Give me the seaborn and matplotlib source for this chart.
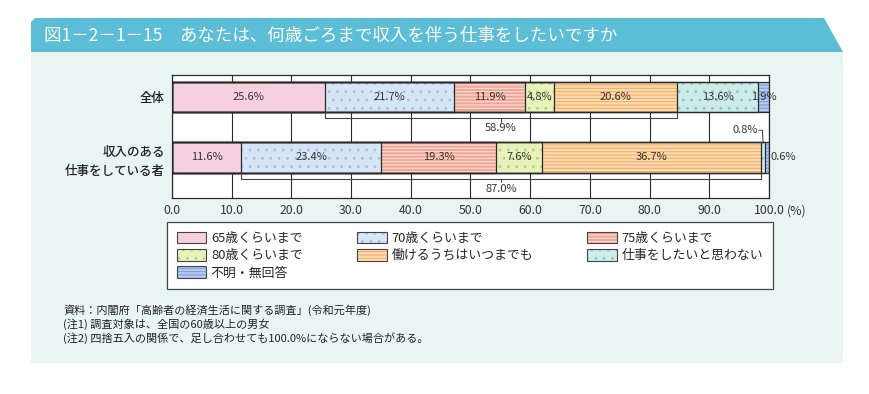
import numpy as np
import pandas as pd
import matplotlib
matplotlib.use("Agg")
import matplotlib.pyplot as plt
from matplotlib.patches import Patch, Polygon, Rectangle
import seaborn as sns

# データ
groups = ["全体", "収入のある\n仕事をしている者"]
categories = ["65歳くらいまで", "70歳くらいまで", "75歳くらいまで", "80歳くらいまで",
              "働けるうちはいつまでも", "仕事をしたいと思わない", "不明・無回答"]
all_values = [25.6, 21.7, 11.9, 4.8, 20.6, 13.6, 1.9]
worker_values = [11.6, 23.4, 19.3, 7.6, 36.7, 0.8, 0.6]
bracket_labels = ["58.9%", "87.0%"]
tick_values = [0, 10, 20, 30, 40, 50, 60, 70, 80, 90, 100]
tick_labels = ["0.0", "10.0", "20.0", "30.0", "40.0", "50.0", "60.0", "70.0", "80.0", "90.0", "100.0"]

title = "図1－2－1－15　あなたは、何歳ごろまで収入を伴う仕事をしたいですか"
notes = ["資料：内閣府「高齢者の経済生活に関する調査」(令和元年度)",
         "(注1) 調査対象は、全国の60歳以上の男女",
         "(注2) 四捨五入の関係で、足し合わせても100.0%にならない場合がある。"]

# スタイル
face_colors = ["#f6cfe0", "#d6e6f6", "#f3a696", "#e9f2bb", "#fddcb2", "#cdebe8", "#b4cbee"]
hatch_colors = ["#f6cfe0", "#a3c0e2", "#fde3dc", "#b3d27e", "#f4ad66", "#7fcbc2", "#7d9fdc"]
hatches = ["", "..", "-----", "..", "-----", "..", "-----"]

W, H = 870, 394


def fx(x):
    return x / W


def fy(y):
    return 1 - y / H


def main():
    sns.set_theme(style="white")
    plt.rcParams["font.family"] = ["Noto Sans CJK JP", "DejaVu Sans"]
    plt.rcParams["hatch.linewidth"] = 0.8

    rows = []
    for g, vals in zip(groups, [all_values, worker_values]):
        for c, v in zip(categories, vals):
            rows.append({"group": g, "category": c, "value": v})
    df = pd.DataFrame(rows)
    df["cum"] = df.groupby("group")["value"].cumsum()

    fig = plt.figure(figsize=(W / 100, H / 100), dpi=100)
    fig.patch.set_facecolor("white")

    # 背景パネルと見出し帯
    fig.add_artist(Rectangle((fx(31), fy(363)), fx(843) - fx(31), fy(52) - fy(363),
                             transform=fig.transFigure, facecolor="#e9f5f3", edgecolor="none", zorder=0))
    fig.add_artist(Polygon([(fx(31), fy(52)), (fx(31), fy(22)), (fx(35), fy(18)),
                            (fx(824), fy(18)), (fx(843), fy(52))],
                           transform=fig.transFigure, facecolor="#5bbdd6", edgecolor="none", zorder=0))
    fig.text(fx(44), fy(36), title, color="white", fontsize=12.6, va="center", ha="left")

    ax = fig.add_axes([fx(172), fy(198), fx(769) - fx(172), fy(75) - fy(198)])
    ax.set_facecolor("white")

    bar_w = 0.51
    # 塗り（累積値を大きい順に重ねる）
    for i in reversed(range(len(categories))):
        sub = df[df["category"] == categories[i]]
        sns.barplot(data=sub, x="cum", y="group", order=groups, orient="h",
                    color=face_colors[i], saturation=1, hatch=hatches[i],
                    edgecolor=hatch_colors[i], linewidth=0, width=bar_w,
                    errorbar=None, ax=ax)
    # 枠線
    for i in reversed(range(len(categories))):
        sub = df[df["category"] == categories[i]]
        sns.barplot(data=sub, x="cum", y="group", order=groups, orient="h",
                    fill=False, color="#2a2a2a", linewidth=0.9, width=bar_w,
                    errorbar=None, ax=ax)

    ax.set_xlim(0, 100)
    ax.set_ylim(1.67, -0.364)
    ax.set_xticks(tick_values)
    ax.set_xticklabels(tick_labels, fontsize=8.8, color="#333333")
    ax.set_yticks([0, 1])
    ax.set_yticklabels(groups, fontsize=9, color="#222222", linespacing=1.6, fontweight="medium")
    ax.tick_params(axis="both", length=0)
    ax.tick_params(axis="x", pad=4)
    ax.tick_params(axis="y", pad=5)
    ax.set_xlabel("")
    ax.set_ylabel("")
    ax.grid(axis="x", color="#2a2a2a", linewidth=0.8)
    ax.grid(axis="y", visible=False)
    ax.set_axisbelow(True)
    for s in ax.spines.values():
        s.set_visible(True)
        s.set_color("#2a2a2a")
        s.set_linewidth(0.9)

    fig.text(fx(787), fy(211), "(%)", fontsize=8.8, color="#333333", va="center", ha="left")

    # 値ラベル
    for gi, g in enumerate(groups):
        sub = df[df["group"] == g].reset_index(drop=True)
        for i, r in sub.iterrows():
            x = r["cum"] - r["value"] / 2
            label = f"{r['value']:.1f}%"
            if gi == 1 and i == 5:
                # 0.8% は引き出し線付き
                ax.text(x - 0.8, gi - 0.45, label, fontsize=8, color="#333333",
                        ha="right", va="center")
                ax.plot([x - 0.7, x - 0.1, x], [gi - 0.45, gi - 0.45, gi - bar_w / 2],
                        color="#333333", lw=0.7, clip_on=False)
            elif gi == 1 and i == 6:
                ax.text(100.3, gi, label, fontsize=8, color="#333333",
                        ha="left", va="center", clip_on=False)
            else:
                ax.text(x, gi, label, fontsize=8, color="#333333",
                        ha="center", va="center")

        # 中括弧
        x0 = sub.loc[0, "cum"]
        x1 = sub.loc[4, "cum"]
        xm = (x0 + x1) / 2
        top = gi + bar_w / 2
        line_y = gi + 0.35
        ax.plot([x0, x0, x1, x1], [top, line_y, line_y, top], color="#444444", lw=0.8)
        ax.plot([xm, xm], [line_y, line_y + 0.06], color="#444444", lw=0.8)
        ax.text(xm, gi + 0.52, bracket_labels[gi], fontsize=8, color="#333333",
                ha="center", va="center")

    # 凡例（行方向の並びに合わせて列順に並べ替え）
    handles = [(Patch(facecolor=face_colors[i], hatch=hatches[i], edgecolor=hatch_colors[i], linewidth=0),
                Patch(fill=False, edgecolor="#444444", linewidth=0.8)) for i in range(len(categories))]
    order = [0, 3, 6, 1, 4, 2, 5]
    leg = fig.legend([handles[i] for i in order], [categories[i] for i in order],
                     ncol=3, loc="upper left", mode="expand",
                     bbox_to_anchor=(fx(167), fy(222), fx(773) - fx(167), 0),
                     fontsize=9.3, fancybox=False, framealpha=1, edgecolor="#444444",
                     borderaxespad=0, handlelength=2.3, handleheight=1.0,
                     labelspacing=0.32, borderpad=0.75, handletextpad=0.35)
    leg.get_frame().set_linewidth(0.9)

    for k, note in enumerate(notes):
        fig.text(fx(63), fy(310 + 14 * k), note, fontsize=8, color="#222222",
                 va="center", ha="left")

    fig.savefig("out.png", dpi=100, facecolor="white")


if __name__ == "__main__":
    main()
